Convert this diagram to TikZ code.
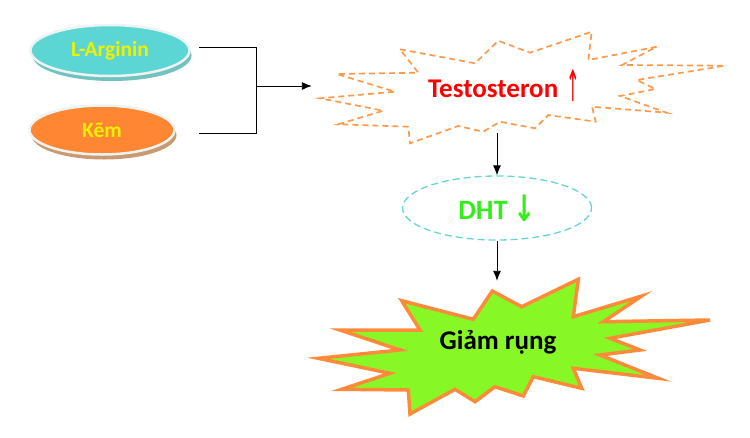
\documentclass[tikz,border=0pt]{standalone}
\usepackage{fontspec}
\setmainfont{Carlito}
\newfontfamily\arrowfont{DejaVu Sans}
\usepackage{xcolor}
\usetikzlibrary{arrows.meta,shapes.geometric,shadows,positioning}

\definecolor{argteal}{HTML}{5CD6D4}
\definecolor{argshade}{HTML}{72C2C0}
\definecolor{kemorange}{HTML}{FF8633}
\definecolor{kemshade}{HTML}{C99A70}
\definecolor{rimgray}{HTML}{EDF3F2}
\definecolor{burstorange}{HTML}{FF9A4D}
\definecolor{dhtcyan}{HTML}{66D4D4}
\definecolor{dhtgreen}{HTML}{33EE1A}
\definecolor{giamgreen}{HTML}{88F726}
\definecolor{giamedge}{HTML}{FF8A3A}
\definecolor{labelyellow}{HTML}{EEF200}

\begin{document}
\begin{tikzpicture}[x=1pt, y=-1pt,
                line/.style={draw=black, line width=0.9pt},
                >={Latex[length=10pt,width=8pt]}]
        \tikzset{
                basic/.style  = {font=\bfseries, align=center, inner sep=0pt},
                disc/.style   = {basic, ellipse, line width=2.5pt, draw=rimgray,
                                text=labelyellow, font=\bfseries\fontsize{21.5}{25}\selectfont},
                burst/.style  = {draw=burstorange, line width=1.7pt, dash pattern=on 6pt off 4pt,
                                line join=miter},
                bang/.style   = {draw=giamedge, fill=giamgreen, line width=3.5pt, line join=miter}
        }
        \useasboundingbox (0,0) rectangle (750,437);

        % input discs
        \node[disc, fill=argteal, minimum width=159pt, minimum height=51pt,
              drop shadow={fill=argshade, opacity=1, shadow xshift=2pt, shadow yshift=-5pt}]
              (arg) at (110,50.5) {L-Arginin};
        \node[disc, fill=kemorange, minimum width=145pt, minimum height=49pt,
              drop shadow={fill=kemshade, opacity=1, shadow xshift=2pt, shadow yshift=-5pt}]
              (kem) at (102,130) {Kẽm};

        % dashed burst behind Testosteron
        \draw[burst] (400,49.3) -- (475,63.3) -- (498.3,40.7) -- (530,52.7) -- (591.7,31.7)
                -- (588.3,60) -- (656.7,46.7) -- (622,65) -- (725,65.7) -- (636.7,80)
                -- (655.5,89) -- (620,96) -- (666.7,112.7) -- (592,106.7) -- (595.7,121.7)
                -- (548.3,115) -- (535,128.3) -- (500,121.7) -- (483.3,131.7) -- (458.3,126)
                -- (410,143.3) -- (408.3,126.7) -- (338.3,124.3) -- (383.3,110.7) -- (320,98.3)
                -- (395,91.7) -- (336.7,74) -- (418.3,72.7) -- cycle;
        \node[basic, text=red, font=\bfseries\fontsize{27}{32}\selectfont,
              minimum width=384pt, minimum height=94pt]
              (testo) at (504,86) {Testosteron\hspace{8pt}\raisebox{-4pt}{\arrowfont\mdseries\scalebox{0.6}[1.6]{↑}}};

        % DHT
        \node[basic, ellipse, draw=dhtcyan, line width=1.3pt, dash pattern=on 7pt off 4pt,
              minimum width=189pt, minimum height=64pt, text=dhtgreen,
              font=\bfseries\fontsize{28}{32}\selectfont]
              (dht) at (497,208) {DHT\hspace{6pt}\raisebox{-2pt}{\arrowfont\scalebox{0.95}[1.3]{↓}}};

        % green bang
        \draw[bang] (492.3,291) -- (521.7,306.7) -- (578.3,279.3) -- (573.3,316.7) -- (641.7,296)
                -- (603.3,321.7) -- (710,320) -- (610,338.3) -- (640,350) -- (600,355)
                -- (658.3,378.3) -- (573.3,368.3) -- (581.7,388.3) -- (533.3,376.7) -- (523.3,396)
                -- (495,386.7) -- (475,401.7) -- (455,389.3) -- (410,414) -- (408.3,390)
                -- (341.7,389.3) -- (390,373.3) -- (318.3,358.3) -- (400,350) -- (340,330)
                -- (420,330) -- (401.7,300.7) -- (473.3,319.3) -- cycle;
        \node[basic, text=black, font=\bfseries\fontsize{27}{32}\selectfont,
              minimum height=122pt]
              (giam) at (498,342) {Giảm rụng};

        % connectors
        \coordinate (join) at (256,86);
        \draw[line] ([xshift=8.5pt,yshift=3pt]arg.east) -| (join);
        \draw[line] ([xshift=23.5pt,yshift=-3pt]kem.east) -| (join);
        \draw[line,->] (join) -- (testo.west);
        \draw[line,->] (dht.north |- testo.south) -- (dht.north);
        \draw[line,->] (dht.south) -- (dht.south |- giam.north);
\end{tikzpicture}
\end{document}
